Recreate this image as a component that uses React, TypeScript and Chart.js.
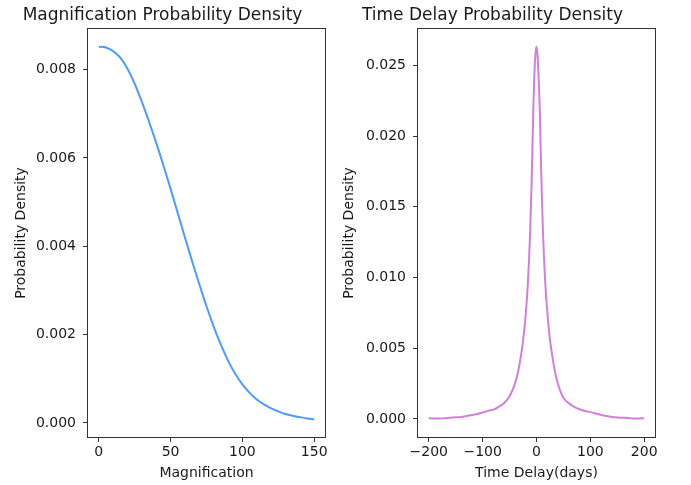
import React, { useEffect, useRef } from "react";
import { Chart, registerables } from "chart.js";

Chart.register(...registerables);

// Magnification probability density
const magX = [0, 2, 5, 10, 15, 20, 25, 30, 35, 40, 45, 50, 55, 60, 65, 70, 75, 80, 85, 90, 95, 100, 105, 110, 115, 120, 125, 130, 135, 140, 145, 150];
const magY = [0.00851, 0.00852, 0.0085, 0.00842, 0.00827, 0.00802, 0.00768, 0.00727, 0.00682, 0.00634, 0.00583, 0.0053, 0.00475, 0.0042, 0.00366, 0.00314, 0.00264, 0.00218, 0.00177, 0.00141, 0.00111, 0.00087, 0.00068, 0.00053, 0.00042, 0.00033, 0.00026, 0.0002, 0.00016, 0.00013, 0.0001, 0.00008];

// Time delay probability density
const tdX = [-200, -190, -180, -170, -160, -150, -140, -130, -120, -110, -100, -90, -85, -80, -70, -60, -50, -45, -40, -35, -30, -25, -20, -16, -12, -9, -6, -4, -2, 0, 2, 4, 6, 9, 12, 16, 20, 25, 30, 35, 40, 45, 50, 60, 70, 80, 90, 100, 110, 120, 130, 140, 150, 160, 170, 180, 190, 200];
const tdY = [0.00004, 0.00003, 0.00002, 0.00005, 0.00008, 0.00011, 0.00014, 0.0002, 0.00027, 0.00035, 0.00045, 0.00057, 0.00062, 0.00066, 0.00085, 0.00112, 0.0016, 0.002, 0.0025, 0.0032, 0.0042, 0.0055, 0.0074, 0.0096, 0.013, 0.0168, 0.0218, 0.0243, 0.0258, 0.02633, 0.0257, 0.0241, 0.022, 0.017, 0.0132, 0.0098, 0.0076, 0.0056, 0.0043, 0.0032, 0.00245, 0.0019, 0.0015, 0.0011, 0.00085, 0.00068, 0.00056, 0.00048, 0.00038, 0.00028, 0.0002, 0.00014, 0.0001, 0.00008, 0.00006, 0.00003, 0.00003, 0.00005];

const magXTicks = [0, 50, 100, 150];
const magYTicks = [0, 0.002, 0.004, 0.006, 0.008];
const tdXTicks = [-200, -100, 0, 100, 200];
const tdYTicks = [0, 0.005, 0.01, 0.015, 0.02, 0.025];

const FONT = "'DejaVu Sans', sans-serif";
const TEXT = "#1a1a1a";

const boxPlugin = {
  id: "frameBox",
  afterDraw(chart: any) {
    const { ctx, chartArea } = chart;
    ctx.save();
    ctx.strokeStyle = "#333";
    ctx.lineWidth = 1;
    ctx.strokeRect(
      Math.round(chartArea.left) - 0.5,
      Math.round(chartArea.top) - 0.5,
      Math.round(chartArea.right - chartArea.left) + 1,
      Math.round(chartArea.bottom - chartArea.top) + 1
    );
    ctx.restore();
  },
};

function makeConfig(opts: {
  xs: number[];
  ys: number[];
  color: string;
  title: string;
  xLabel: string;
  xMin: number;
  xMax: number;
  yMin: number;
  yMax: number;
  xTicks: number[];
  yTicks: number[];
  yTitlePad: number;
  monotone: boolean;
}) {
  const data = opts.xs.map((x, i) => ({ x, y: opts.ys[i] }));
  const fmtX = (v: number) => (v < 0 ? "\u2212" + Math.abs(v) : String(v));
  return {
    type: "line" as const,
    data: {
      datasets: [
        {
          data,
          borderColor: opts.color,
          borderWidth: 2,
          pointRadius: 0,
          fill: false,
          tension: 0.4,
          cubicInterpolationMode: opts.monotone ? ("monotone" as const) : ("default" as const),
        },
      ],
    },
    options: {
      animation: false as const,
      responsive: false,
      maintainAspectRatio: false,
      layout: { padding: { left: 0, right: 88, top: 0, bottom: 0 } },
      plugins: {
        legend: { display: false },
        tooltip: { enabled: false },
        title: {
          display: true,
          text: opts.title,
          color: TEXT,
          font: { family: FONT, size: 17, weight: "normal" as const },
          padding: { top: 5.5, bottom: 3.1 },
        },
      },
      scales: {
        x: {
          type: "linear" as const,
          min: opts.xMin,
          max: opts.xMax,
          afterBuildTicks: (s: any) => {
            s.ticks = opts.xTicks.map((v) => ({ value: v }));
          },
          afterFit: (s: any) => {
            s.height = 48;
          },
          border: { display: false },
          grid: {
            display: true,
            drawOnChartArea: false,
            drawTicks: true,
            tickLength: 5,
            tickColor: "#333",
          },
          ticks: {
            color: TEXT,
            font: { family: FONT, size: 14 },
            padding: 2,
            maxRotation: 0,
            autoSkip: false,
            callback: (v: any) => fmtX(Number(v)),
          },
          title: {
            display: true,
            text: opts.xLabel,
            color: TEXT,
            font: { family: FONT, size: 14 },
            padding: { top: 0, bottom: 3.6 },
          },
        },
        y: {
          type: "linear" as const,
          min: opts.yMin,
          max: opts.yMax,
          afterBuildTicks: (s: any) => {
            s.ticks = opts.yTicks.map((v) => ({ value: v }));
          },
          afterFit: (s: any) => {
            s.width = 88;
          },
          border: { display: false },
          grid: {
            display: true,
            drawOnChartArea: false,
            drawTicks: true,
            tickLength: 5,
            tickColor: "#333",
          },
          ticks: {
            color: TEXT,
            font: { family: FONT, size: 14 },
            padding: 7,
            autoSkip: false,
            callback: (v: any) => Number(v).toFixed(3),
          },
          title: {
            display: true,
            text: "Probability Density",
            color: TEXT,
            font: { family: FONT, size: 14 },
            padding: { top: opts.yTitlePad, bottom: 0 },
          },
        },
      },
    },
    plugins: [boxPlugin],
  };
}

function ChartCanvas({ config, left }: { config: any; left: number }) {
  const ref = useRef<HTMLCanvasElement | null>(null);
  useEffect(() => {
    if (!ref.current) return;
    const chart = new Chart(ref.current, config);
    return () => chart.destroy();
  }, [config]);
  return (
    <canvas
      ref={ref}
      width={413}
      height={485}
      style={{ position: "absolute", left, top: 0, width: 413, height: 485 }}
    />
  );
}

const magConfig = makeConfig({
  xs: magX,
  ys: magY,
  color: "#4C9BFF",
  title: "Magnification Probability Density",
  xLabel: "Magnification",
  xMin: -7.5,
  xMax: 157.5,
  yMin: -0.00032,
  yMax: 0.00892,
  xTicks: magXTicks,
  yTicks: magYTicks,
  yTitlePad: 12.6,
  monotone: false,
});

const tdConfig = makeConfig({
  xs: tdX,
  ys: tdY,
  color: "#D27FDB",
  title: "Time Delay Probability Density",
  xLabel: "Time Delay(days)",
  xMin: -220,
  xMax: 220,
  yMin: -0.00128,
  yMax: 0.02758,
  xTicks: tdXTicks,
  yTicks: tdYTicks,
  yTitlePad: 11.1,
  monotone: true,
});

export default function App() {
  return (
    <div
      style={{
        position: "absolute",
        left: 0,
        top: 0,
        width: 691,
        height: 485,
        overflow: "hidden",
        background: "#fff",
      }}
    >
      <ChartCanvas config={magConfig} left={0} />
      <ChartCanvas config={tdConfig} left={330} />
    </div>
  );
}
